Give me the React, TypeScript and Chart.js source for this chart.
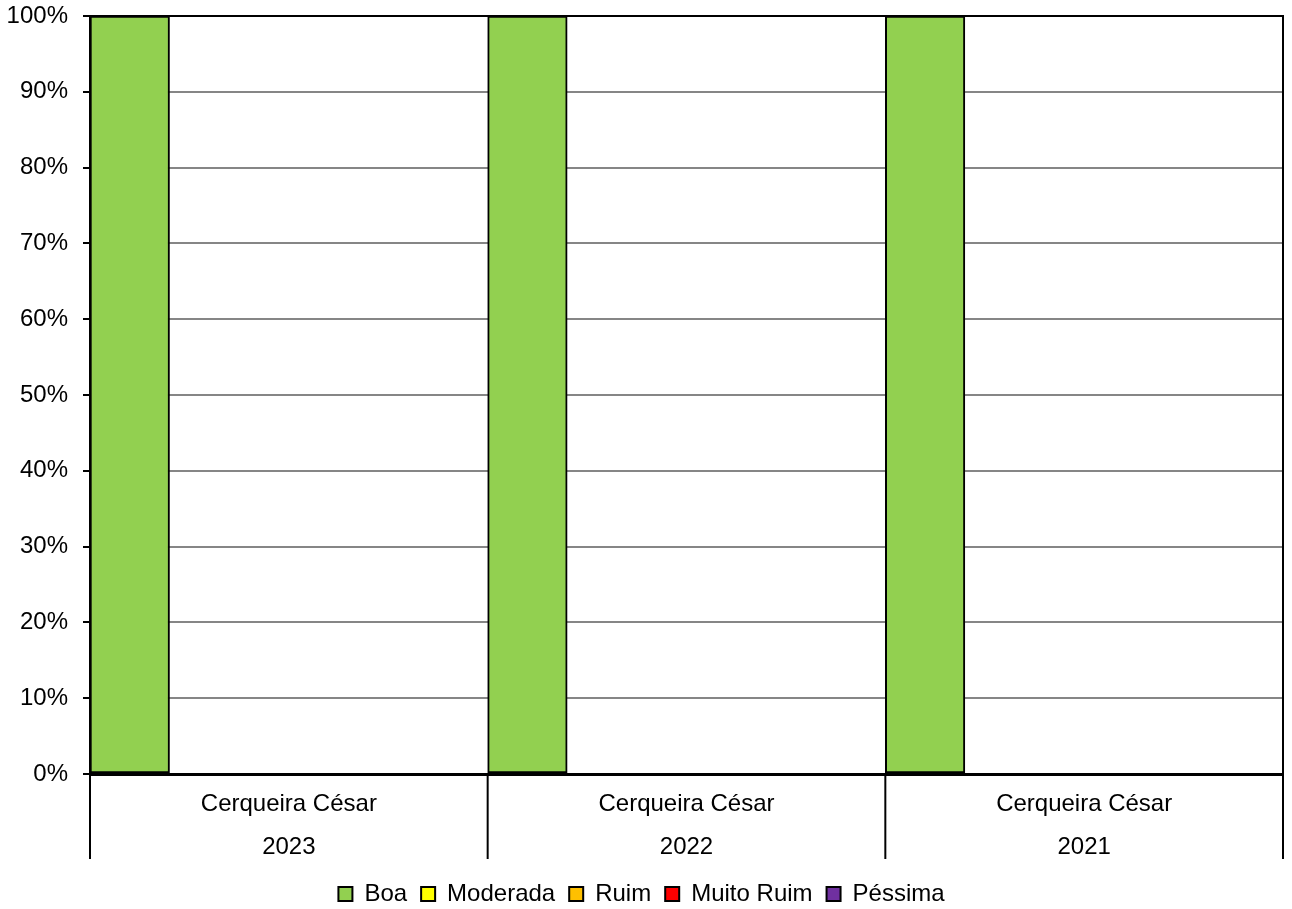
import React, { useEffect, useRef } from "react";
import { Chart, registerables } from "chart.js";

Chart.register(...registerables);

const stations = ["Cerqueira César", "Cerqueira César", "Cerqueira César"];
const years = ["2023", "2022", "2021"];
const seriesNames = ["Boa", "Moderada", "Ruim", "Muito Ruim", "Péssima"];
const seriesColors = ["#92D050", "#FFFF00", "#FFC000", "#FF0000", "#7030A0"];
const boa = [100, 100, 100];
const moderada = [0, 0, 0];
const ruim = [0, 0, 0];
const muitoRuim = [0, 0, 0];
const pessima = [0, 0, 0];
const yTicks = [0, 10, 20, 30, 40, 50, 60, 70, 80, 90, 100];

const FONT = "'Liberation Sans', Arial, sans-serif";
const AXIS_BAND = 85;

const categoryAxisPlugin = {
  id: "categoryAxisPlugin",
  afterDraw(chart: any) {
    const { ctx, chartArea } = chart;
    const x = chart.scales.x;
    const n = stations.length;
    const band = (chartArea.right - chartArea.left) / n;
    ctx.save();
    ctx.strokeStyle = "#000";
    ctx.lineWidth = 2;
    ctx.beginPath();
    ctx.moveTo(chartArea.right, chartArea.top - 1);
    ctx.lineTo(chartArea.right, chartArea.bottom);
    ctx.stroke();
    for (let i = 0; i <= n; i++) {
      const px = i < n ? x.getPixelForValue(i) - band / 2 : x.getPixelForValue(n - 1) + band / 2;
      ctx.beginPath();
      ctx.moveTo(px, chartArea.bottom);
      ctx.lineTo(px, chartArea.bottom + AXIS_BAND);
      ctx.stroke();
    }
    ctx.fillStyle = "#000";
    ctx.font = `24px ${FONT}`;
    ctx.textAlign = "center";
    ctx.textBaseline = "middle";
    for (let i = 0; i < n; i++) {
      const cx = x.getPixelForValue(i);
      ctx.fillText(stations[i], cx, chartArea.bottom + 30);
      ctx.fillText(years[i], cx, chartArea.bottom + 73);
    }
    ctx.restore();
  },
};

export default function App() {
  const ref = useRef<HTMLCanvasElement | null>(null);
  useEffect(() => {
    if (!ref.current) return;
    const values = [boa, moderada, ruim, muitoRuim, pessima];
    const chart = new Chart(ref.current, {
      type: "bar",
      data: {
        labels: years.map((y, i) => `${stations[i]} ${y}`),
        datasets: seriesNames.map((name, i) => ({
          label: name,
          data: values[i],
          backgroundColor: seriesColors[i],
          borderColor: "#000",
          borderWidth: 2,
          borderSkipped: false,
          categoryPercentage: 1,
          barPercentage: 1,
        })),
      },
      options: {
        responsive: false,
        animation: false,
        devicePixelRatio: 1,
        layout: { padding: { left: 0, top: 16, right: 9, bottom: -7 } },
        plugins: {
          tooltip: { enabled: false },
          legend: {
            position: "bottom",
            labels: {
              color: "#000",
              font: { size: 24, family: FONT },
              boxWidth: 14,
              boxHeight: 14,
              padding: 14,
            },
          },
        },
        scales: {
          x: {
            grid: { display: false },
            ticks: { display: false },
            border: { color: "#000", width: 3 },
            afterFit: (s: any) => {
              s.height = 94;
              s.paddingLeft = 0;
              s.paddingRight = 0;
            },
          },
          y: {
            min: 0,
            max: 100,
            afterBuildTicks: (s: any) => {
              s.ticks = yTicks.map((v) => ({ value: v }));
            },
            ticks: {
              color: "#000",
              font: { size: 24, family: FONT },
              padding: 15,
              callback: (v: any) => `${v}%`,
            },
            grid: {
              color: (c: any) => (c.tick && c.tick.value === 100 ? "#000" : "#868686"),
              lineWidth: 2,
              tickColor: "#000",
              tickLength: 7,
            },
            border: { color: "#000", width: 2 },
            afterFit: (s: any) => {
              s.width = 90;
              s.paddingTop = 0;
              s.paddingBottom = 0;
            },
          },
        },
      },
      plugins: [categoryAxisPlugin],
    });
    return () => chart.destroy();
  }, []);
  return (
    <div style={{ position: "absolute", left: 0, top: 0, width: 1292, height: 909, overflow: "hidden", background: "#fff" }}>
      <canvas ref={ref} width={1292} height={909} />
    </div>
  );
}
